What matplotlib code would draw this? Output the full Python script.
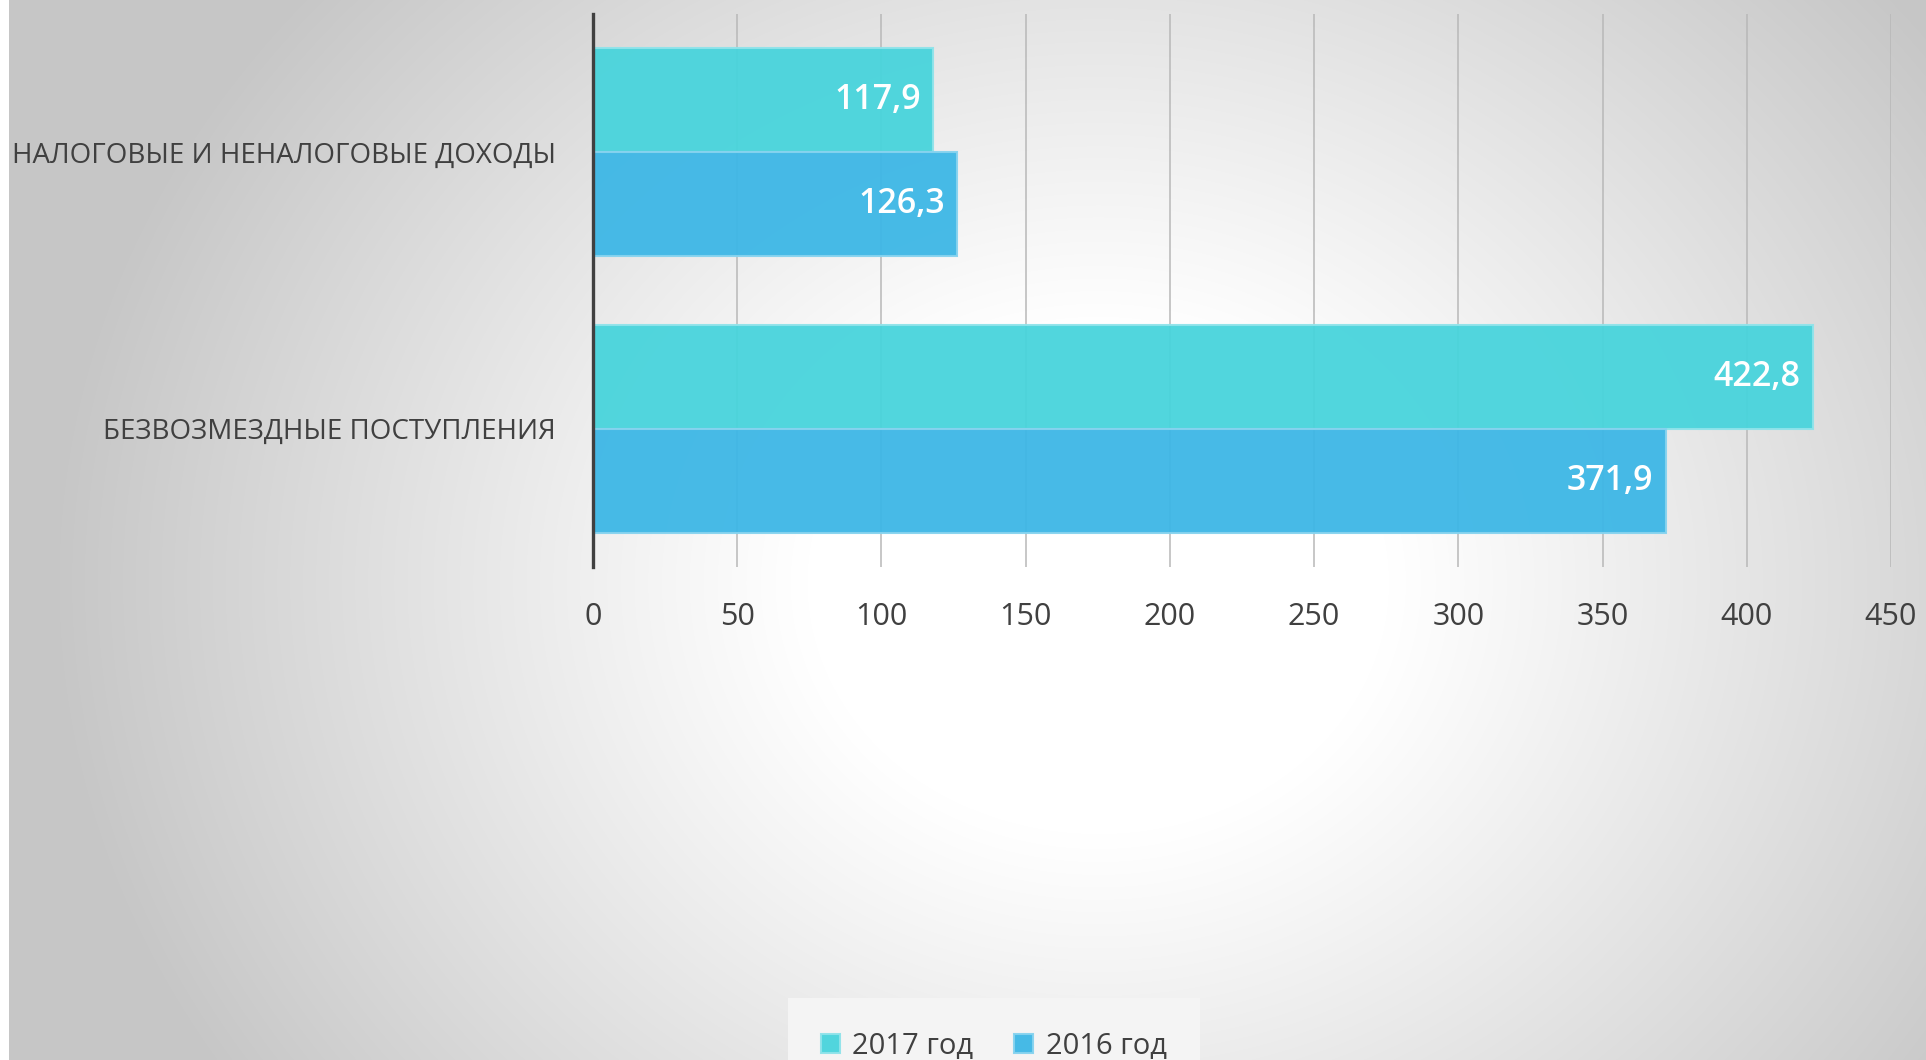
import numpy as np
import matplotlib
matplotlib.use("Agg")
import matplotlib.pyplot as plt

# chart data
categories = ["НАЛОГОВЫЕ И НЕНАЛОГОВЫЕ ДОХОДЫ", "БЕЗВОЗМЕЗДНЫЕ ПОСТУПЛЕНИЯ"]
values_2017 = [117.9, 422.8]
values_2016 = [126.3, 371.9]
series_names = ["2017 год", "2016 год"]
x_ticks = [0, 50, 100, 150, 200, 250, 300, 350, 400, 450]

COLOR_2017 = "#48d4dc"
COLOR_2016 = "#3db7e6"
TEXT_COLOR = "#404040"

plt.rcParams["font.family"] = ["Open Sans", "DejaVu Sans"]

W, H = 1926, 1060
fig = plt.figure(figsize=(W / 100, H / 100), dpi=100)

# soft radial background, grey at the edges and white in the middle
bg = fig.add_axes([0, 0, 1, 1], zorder=-10)
xx, yy = np.meshgrid(np.linspace(0, 1, W), np.linspace(0, 1, H))
d = np.sqrt(((xx - 0.57) / 0.54) ** 2 + ((yy - 0.55) / 0.85) ** 2)
t = np.clip((d - 0.28) / 0.72, 0, 1) ** 1.05
grey = 1 - 0.22 * t
img = np.dstack([grey, grey, grey])
img[:, :9, :] = 1.0
bg.imshow(img, aspect="auto", extent=[0, 1, 0, 1], origin="upper")
bg.axis("off")

ax = fig.add_axes([593 / W, 1 - 567 / H, (1891 - 593) / W, (567 - 14) / H])
ax.set_facecolor("none")

y = np.arange(len(categories))
h = 0.376
bars17 = ax.barh(y - h / 2, values_2017, height=h, color=COLOR_2017,
                 edgecolor="#8fe3ea", linewidth=1.5, alpha=0.95,
                 label=series_names[0], zorder=2)
bars16 = ax.barh(y + h / 2, values_2016, height=h, color=COLOR_2016,
                 edgecolor="#86d3ef", linewidth=1.5, alpha=0.95,
                 label=series_names[1], zorder=2)

for bars, vals in [(bars17, values_2017), (bars16, values_2016)]:
    for b, v in zip(bars, vals):
        ax.text(v - 4.3, b.get_y() + b.get_height() / 2,
                f"{v:.1f}".replace(".", ","), ha="right", va="center",
                color="white", fontsize=24.5, fontweight="semibold", zorder=4)

ax.set_xlim(0, 450)
ax.set_ylim(1.5, -0.5)
ax.set_xticks(x_ticks)
ax.set_xticklabels([str(v) for v in x_ticks])
ax.set_yticks(y)
ax.set_yticklabels(categories)
ax.tick_params(axis="x", length=0, pad=25, labelsize=22, labelcolor=TEXT_COLOR)
ax.tick_params(axis="y", length=0, pad=27, labelsize=20, labelcolor=TEXT_COLOR)

ax.grid(axis="x", color="#b8b8b8", linewidth=1.1, zorder=1)
ax.set_axisbelow(True)
for side in ["top", "right", "bottom"]:
    ax.spines[side].set_visible(False)
ax.spines["left"].set_color("#404040")
ax.spines["left"].set_linewidth(2.4)
ax.spines["left"].set_zorder(5)

leg = fig.legend(handles=[bars17, bars16], labels=series_names,
                 loc="upper center", bbox_to_anchor=(0.516, 1 - 998 / H),
                 borderaxespad=0, ncol=2, fontsize=21, frameon=True,
                 facecolor="#f4f4f4", edgecolor="none", fancybox=False,
                 borderpad=1.15, handlelength=0.65, handleheight=0.65,
                 handletextpad=0.42, columnspacing=1.4, labelcolor=TEXT_COLOR)
leg.get_frame().set_alpha(1)

fig.savefig("out.png", dpi=100)
